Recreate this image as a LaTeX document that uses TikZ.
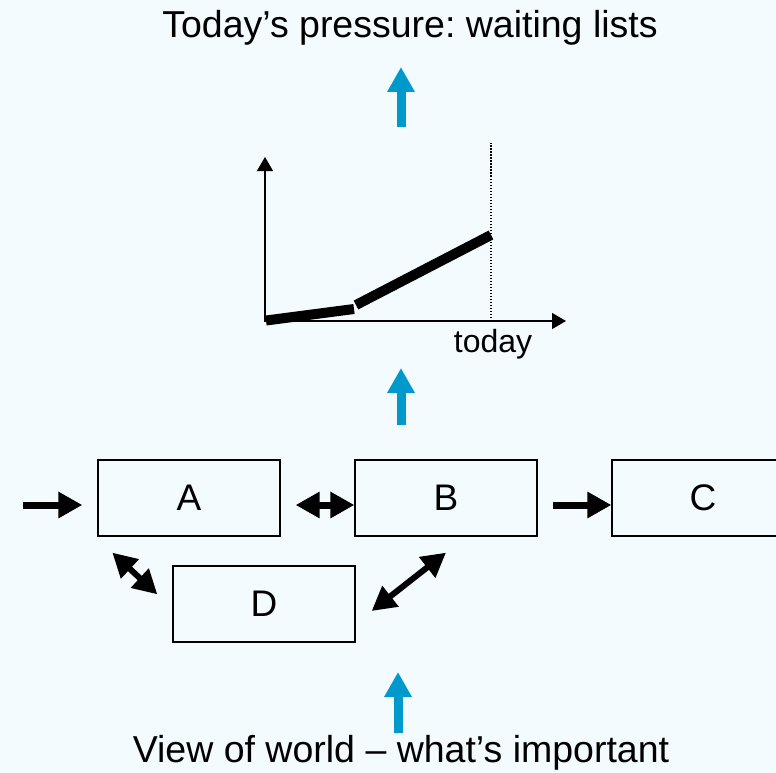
\documentclass[tikz,border=0pt]{standalone}
\usepackage{fontspec}
\setmainfont{Liberation Sans}
\frenchspacing
\usetikzlibrary{arrows.meta,positioning}
\definecolor{slidebg}{RGB}{243,251,254}
\definecolor{flowblue}{RGB}{0,153,204}
\begin{document}
\begin{tikzpicture}[
    % pixel-like units: x to the right, y downwards
    x=1pt, y=-1pt,
    box/.style={draw, line width=1.3pt, minimum width=182pt, minimum height=76pt,
        inner sep=0pt, font=\fontsize{37}{40}\selectfont},
    bigtext/.style={font=\fontsize{37.5}{40}\selectfont, anchor=base, inner sep=0pt},
    fatarrow/.style={line width=7pt, -{Triangle[length=24pt,width=25pt]}},
    fatboth/.style={line width=7pt, {Triangle[length=24pt,width=25pt]}-{Triangle[length=24pt,width=25pt]}},
    flowarrow/.style={line width=9pt, flowblue, -{Triangle[length=25pt,width=26pt]}},
    axis/.style={line width=1.3pt, -{Triangle[length=14pt,width=16pt]}}
]
    % --- Page ---
    \useasboundingbox (0,0) rectangle (776,773);
    \fill[slidebg] (0,0) rectangle (776,773);
    \clip (0,0) rectangle (776,773);

    % --- Texts ---
    \node[bigtext] (title) at (410,37.7) {Today’s pressure: waiting lists};
    \node[bigtext] (view) at (401,762) {View of world – what’s important};

    % --- Boxes ---
    \node[box] (A) at (189,498) {A};
    \node[box] (B) at (446,498) {B};
    \node[box] (C) at (703,498) {C};
    \node[box] (D) at (264,604) {D};

    % --- Chart ---
    \coordinate (O) at (265,321);
    \coordinate (Ytop) at (265,157);
    \coordinate (Xend) at (566,321);
    \coordinate (Today) at (491,321);
    \coordinate (Knee) at (354,309);
    \coordinate (Now) at (491,235);

    \draw[axis] (O) -- (Ytop);
    \draw[axis] ([xshift=-0.65pt]O) -- (Xend);
    \draw[line width=1.3pt, dash pattern=on 1.5pt off 1.5pt] (Today) -- (491,143);
    \draw[line width=10pt] (266,320.5) -- (Knee);
    \draw[line width=10pt] (356,305) -- (Now);
    \node[font=\fontsize{32}{34}\selectfont, anchor=base, inner sep=0pt] (todaylbl) at (493,352) {today};

    % --- Links between boxes ---
    \coordinate (in) at (23,505);
    \draw[fatarrow, shorten >=15pt] (in) -- ([yshift=-7pt]A.west);
    \draw[fatboth, shorten <=15pt] ([yshift=-7pt]A.east) -- ([yshift=-7pt]B.west);
    \draw[fatarrow, shorten <=15pt] ([yshift=-7pt]B.east) -- ([yshift=-7pt]C.west);
    \draw[fatboth, line width=6pt] ([xshift=15pt,yshift=-16pt]A.south west) -- ([xshift=-15pt,yshift=-29pt]D.north west);
    \draw[fatboth, line width=6pt] ([yshift=-16pt]B.south) -- ([xshift=16pt,yshift=-7pt]D.east);

    % --- Blue flow arrows ---
    \coordinate (topTail) at (401,127);
    \coordinate (topTip) at (401,67);
    \coordinate (midTail) at (401,425);
    \coordinate (midTip) at (401,368);
    \coordinate (lowTail) at (398,733);
    \coordinate (lowTip) at (398,672);
    \draw[flowarrow] (topTail) -- (topTip);
    \draw[flowarrow] (midTail) -- (midTip);
    \draw[flowarrow] (lowTail) -- (lowTip);
\end{tikzpicture}
\end{document}
